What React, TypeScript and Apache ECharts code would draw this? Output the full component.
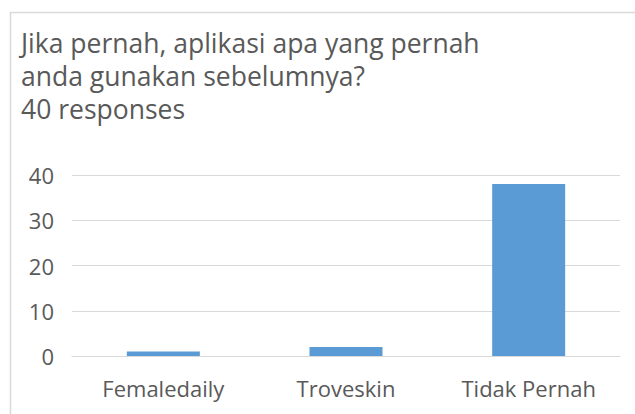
import React, { useEffect, useRef } from "react";
import * as echarts from "echarts";

const categories = ["Femaledaily", "Troveskin", "Tidak Pernah"];
const values = [1, 2, 38];
const titleLines = ["Jika pernah, aplikasi apa yang pernah", "anda gunakan sebelumnya?", "40 responses"];

export default function App() {
  const ref = useRef<HTMLDivElement>(null);
  useEffect(() => {
    document.body.style.margin = "0";
    const chart = echarts.init(ref.current!, null, { renderer: "svg" });
    const font = "'Open Sans', 'Noto Sans', sans-serif";
    chart.setOption({
      animation: false,
      backgroundColor: "#ffffff",
      title: {
        text: titleLines.join("\n"),
        left: 21,
        top: 26,
        padding: 0,
        textStyle: { fontFamily: font, fontSize: 26.5, fontWeight: "normal", color: "#595959", lineHeight: 33 },
      },
      graphic: [
        {
          type: "rect",
          shape: { x: 10.5, y: 12.5, width: 700, height: 500 },
          style: { fill: "none", stroke: "#d9d9d9", lineWidth: 1.5 },
          silent: true,
        },
      ],
      grid: { left: 72, right: 15, top: 175, bottom: 58 },
      xAxis: {
        type: "category",
        data: categories,
        axisLine: { show: true, lineStyle: { color: "#d9d9d9", width: 1 } },
        axisTick: { show: false },
        axisLabel: { fontFamily: font, fontSize: 22, color: "#595959", margin: 21 },
      },
      yAxis: {
        type: "value",
        min: 0,
        max: 40,
        interval: 10,
        axisLine: { show: false },
        axisTick: { show: false },
        splitLine: { lineStyle: { color: "#d9d9d9", width: 1 } },
        axisLabel: { fontFamily: font, fontSize: 22, color: "#595959", margin: 18 },
      },
      series: [
        {
          type: "bar",
          data: values,
          barWidth: 73,
          itemStyle: { color: "#5b9bd5" },
        },
      ],
    });
    return () => chart.dispose();
  }, []);
  return <div ref={ref} style={{ width: 635, height: 414 }} />;
}
